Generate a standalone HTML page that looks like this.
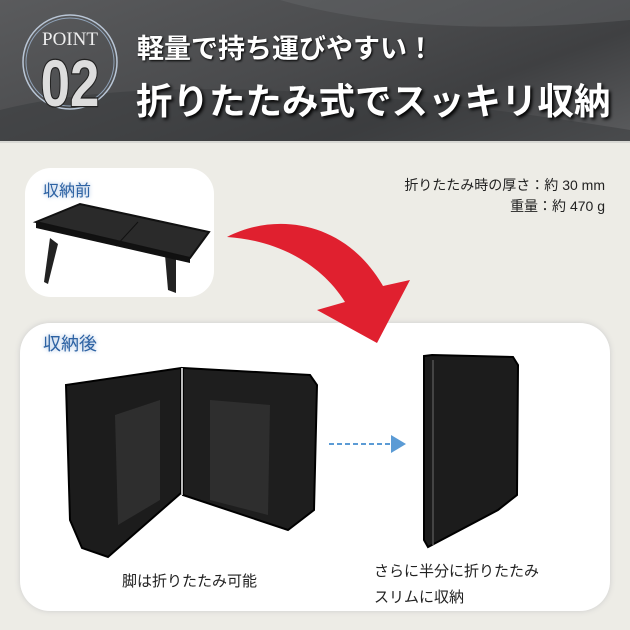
<!DOCTYPE html>
<html><head><meta charset="utf-8"><style>
*{margin:0;padding:0}
body{width:630px;height:630px;overflow:hidden;background:#edece6;position:relative;font-family:"Liberation Sans","Noto Sans CJK JP",sans-serif}
.hdr{position:absolute;left:0;top:0;width:630px;height:141px;overflow:hidden;background:linear-gradient(160deg,#5a5b5d 0%,#4a4b4d 45%,#3f4042 70%,#5b5c5e 100%);border-bottom:2px solid #d8d8d4}
.t{position:absolute;color:#fff;font-weight:bold;white-space:nowrap}
.card{position:absolute;background:#fff}
.lbl{position:absolute;color:#2d62a3;white-space:nowrap;text-shadow:0 0 4px #9bb8dd}
.cap{position:absolute;color:#222;white-space:nowrap;font-size:15px}
</style></head><body>
<div class="hdr">
<svg width="630" height="141" style="position:absolute;left:0;top:0">
<path d="M0,110 Q200,60 630,130 L630,141 L0,141Z" fill="#38393b" opacity=".5"/>
<path d="M280,0 Q420,40 630,20 L630,0Z" fill="#6a6b6d" opacity=".4"/>
<circle cx="70" cy="62" r="47" fill="none" stroke="#b9c6d6" stroke-width="1.5"/>
<circle cx="70" cy="62" r="44" fill="none" stroke="#8fa2b8" stroke-width="1"/>
<text x="70" y="45" text-anchor="middle" font-family="Liberation Serif,serif" font-size="19" fill="#eee">POINT</text>
<text x="70" y="106" text-anchor="middle" font-family="Liberation Sans,sans-serif" font-weight="bold" font-size="66" fill="#ddd" stroke="#222" stroke-width="2.5" transform="translate(70 0) scale(0.8 1) translate(-70 0)" paint-order="stroke">02</text>
</svg>
<div class="t" style="left:137px;top:27px;font-size:27px;text-shadow:1px 1px 2px #000">軽量で持ち運びやすい！</div>
<div class="t" style="left:136px;top:72px;font-size:36.5px;text-shadow:2px 2px 3px #000">折りたたみ式でスッキリ収納</div>
</div>
<div class="card" style="left:25px;top:168px;width:189px;height:129px;border-radius:26px"></div>
<div class="lbl" style="left:43px;top:177px;font-size:16px">収納前</div>
<svg width="630" height="630" style="position:absolute;left:0;top:0">
<polygon points="50,238 44,282 48,284 58,244" fill="#222"/>
<polygon points="165,255 168,290 176,293 176,258" fill="#222"/>
<polygon points="36,222 80,204 209,232 190,258" fill="#2a2a2a" stroke="#111" stroke-width="2"/>
<polygon points="36,222 190,258 190,263 36,228" fill="#111"/>
<line x1="138" y1="222" x2="116" y2="246" stroke="#111" stroke-width="1"/>
</svg>
<div style="position:absolute;right:25px;top:175px;text-align:right;font-size:14px;color:#222;line-height:21px">折りたたみ時の厚さ：約 30 mm<br>重量：約 470 g</div>
<div class="card" style="left:20px;top:323px;width:590px;height:288px;border-radius:30px;box-shadow:0 0 6px #ccc"></div>
<svg width="630" height="630" style="position:absolute;left:0;top:0">
<path d="M227,237 C275,212 345,220 383,286 L410,280 L377,343 L317,310 L345,302 C320,262 275,240 227,237 Z" fill="#e0202f"/>
<polygon points="66,385 181,368 181,493 108,557 82,548 70,520" fill="#1c1c1c" stroke="#000" stroke-width="2"/>
<polygon points="183,368 310,375 317,385 314,510 288,530 183,495" fill="#1e1e1e" stroke="#000" stroke-width="2"/>
<polygon points="115,415 160,400 160,500 118,525" fill="#2e2e2e"/>
<polygon points="210,400 270,405 268,515 210,500" fill="#2e2e2e"/>
<line x1="182" y1="368" x2="182" y2="495" stroke="#bbb" stroke-width="2"/>
<polygon points="424,356 432,355 513,357 518,365 517,495 498,510 428,547 424,540" fill="#1c1c1c" stroke="#000" stroke-width="2"/>
<line x1="433" y1="360" x2="433" y2="545" stroke="#444" stroke-width="2"/>
<line x1="329" y1="444" x2="390" y2="444" stroke="#5b9bd5" stroke-width="2" stroke-dasharray="5,3"/>
<polygon points="391,435 406,444 391,453" fill="#5b9bd5"/>
</svg>
<div class="lbl" style="left:43px;top:330px;font-size:18px">収納後</div>
<div class="cap" style="left:122px;top:570px">脚は折りたたみ可能</div>
<div class="cap" style="left:374px;top:559px;line-height:26px">さらに半分に折りたたみ<br>スリムに収納</div>
</body></html>
